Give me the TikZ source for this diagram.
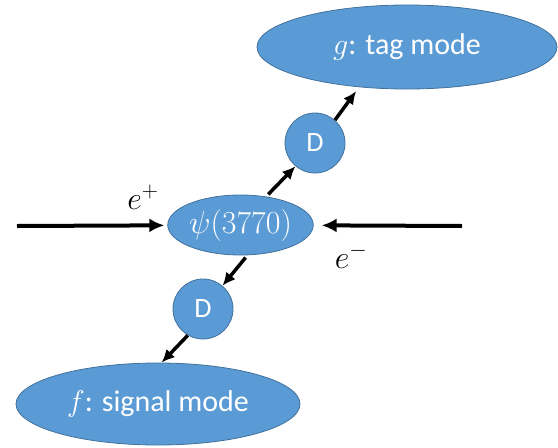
\RequirePackage{fix-cm}
\documentclass[tikz,border=0pt]{standalone}
\usepackage{amsmath}
\usepackage[no-math]{fontspec}
\setmainfont{Carlito}
\usepackage{tikz}
\usetikzlibrary{shapes, arrows.meta, positioning, calc}

\definecolor{modeblue}{HTML}{5B9BD5}
\definecolor{modeedge}{HTML}{41719C}

\begin{document}
\begin{tikzpicture}[x=1pt, y=-1pt,
    blob/.style={ellipse, fill=modeblue, draw=modeedge, line width=0.8pt, text=white, inner sep=0pt, font=\fontsize{30}{36}\selectfont},
    meson/.style={circle, fill=modeblue, draw=modeedge, line width=0.8pt, text=white, inner sep=0pt, minimum size=60pt, font=\fontsize{28}{34}\selectfont},
    beam/.style={-{Latex[length=15pt, width=14pt]}, line width=4pt},
    flow/.style={-{Latex[length=13pt, width=12pt]}, line width=3.5pt}]
\useasboundingbox (0,0) rectangle (558,448);

% resonance and the two D mesons
\node[blob, minimum width=145pt, minimum height=60pt, font=\fontsize{32}{38}\selectfont] (psi) at (240.5,225) {$\psi(3770)$};
\node[meson] (Dup) at (315,143) {D};
\node[meson] (Dlow) at (203,309) {D};

% decay modes
\node[blob, minimum width=300pt, minimum height=84pt] (tag) at (407,47) {$g$: tag mode};
\node[blob, minimum width=284pt, minimum height=82pt] (sig) at (158,404) {$f$: signal mode};

% incoming beams
\coordinate (lin) at (17,226);
\coordinate (rin) at (462,226);
\draw[beam, shorten >=3pt] (lin) -- (psi);
\draw[beam, shorten >=8pt] (rin) -- (psi);
\node[font=\fontsize{32}{38}\selectfont] (ep) at (143,197) {$e^+$};
\node[font=\fontsize{32}{38}\selectfont] (em) at (351,256) {$e^-$};

% decay chain
\draw[flow, shorten <=3pt] (psi.48) -- (Dup.230);
\draw[flow, shorten >=5pt] (Dup.49) -- (tag.220);
\draw[flow, shorten <=3pt] (psi.283) -- (Dlow.50);
\draw[flow] (Dlow.240) -- (sig.85);
\end{tikzpicture}
\end{document}
